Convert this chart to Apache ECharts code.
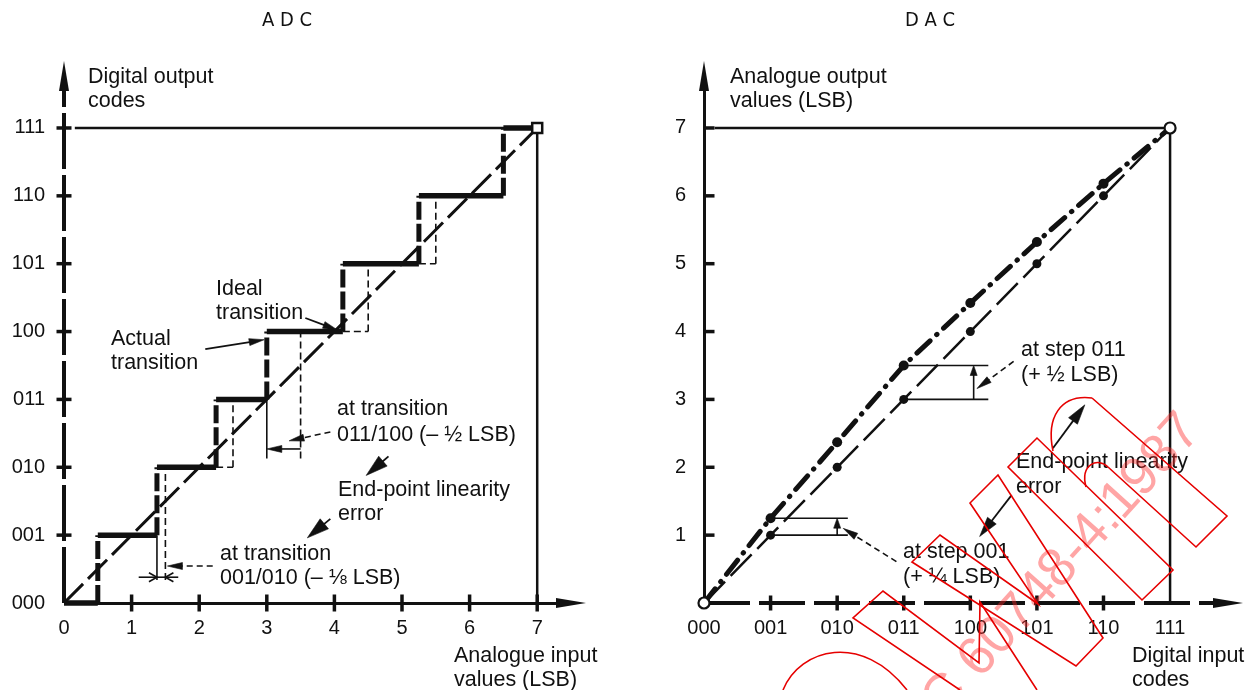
<!DOCTYPE html>
<html>
<head>
<meta charset="utf-8">
<script src="https://cdn.jsdelivr.net/npm/echarts@6/dist/echarts.min.js"></script>
<style>
  html, body { margin: 0; padding: 0; background: #fff; }
  #chart { width: 1248px; height: 690px; }
</style>
</head>
<body>
<div id="chart"></div>
<script>
// ---------- data ----------
const codeLabels = ['000', '001', '010', '011', '100', '101', '110', '111'];
const lsbLabels = ['0', '1', '2', '3', '4', '5', '6', '7'];
const codeSteps = [0, 1, 2, 3, 4, 5, 6, 7];

// ADC: input level (LSB) at which each code 001..111 is reached
const adcIdealTransitions = [0.5, 1.5, 2.5, 3.5, 4.5, 5.5, 6.5];
const adcActualTransitions = [0.5, 1.375, 2.25, 3.0, 4.125, 5.25, 6.5];
// transitions carrying a dimension (index into the arrays above)
const adcMarkedTransitions = [1, 3];

// DAC: analogue output (LSB) for input codes 000..111
const dacIdealOutput = [0, 1, 2, 3, 4, 5, 6, 7];
const dacActualOutput = [0, 1.25, 2.37, 3.5, 4.42, 5.32, 6.18, 7];
// steps carrying a dimension
const dacMarkedSteps = [1, 3];

// ---------- look ----------
const INK = '#111';
const FONT = '"Liberation Sans", Arial, Helvetica, sans-serif';
const TITLE_FONT = '"Liberation Sans Narrow", "DejaVu Sans Condensed", "Liberation Sans", sans-serif';
const ARROW_PATH = 'path://M5,0 L10,30 L0,30 Z';
const TEXT_SIZE = 21.5;
const TICK_SIZE = 20;

const STROKES = {
  tread:  { w: 5.5 },
  riser:  { w: 5, dash: [18, 4] },
  ideal:  { w: 1.6, dash: [7, 4] },
  thin:   { w: 1.6 },
  leader: { w: 1.6, dash: [6, 4] },
  arrow:  { w: 1.8 }
};
const HEADS = {
  filled: { L: 15, W: 7 },
  small:  { L: 10, W: 7 },
  medium: { L: 20, W: 11 },
  big:    { L: 22, W: 13 },
  open:   { L: 8, W: 9, open: true }
};

function arrowHead(from, tip, spec) {
  const dx = tip[0] - from[0], dy = tip[1] - from[1];
  const len = Math.hypot(dx, dy) || 1;
  const ux = dx / len, uy = dy / len, nx = -uy, ny = ux;
  const bx = tip[0] - ux * spec.L, by = tip[1] - uy * spec.L;
  const p1 = [bx + nx * spec.W / 2, by + ny * spec.W / 2];
  const p2 = [bx - nx * spec.W / 2, by - ny * spec.W / 2];
  if (spec.open) {
    return { type: 'polyline', shape: { points: [p1, tip, p2] }, style: { stroke: INK, fill: null, lineWidth: 1.6 } };
  }
  return { type: 'polygon', shape: { points: [tip, p1, p2] }, style: { fill: INK, stroke: INK, lineWidth: 0.6 } };
}

// custom series drawing straight segments (with optional arrow heads) in data space
function segmentSeries(gridIndex, segs) {
  return {
    type: 'custom',
    xAxisIndex: gridIndex,
    yAxisIndex: gridIndex,
    silent: true,
    clip: false,
    z: 3,
    data: segs.map(s => [s.a[0], s.a[1], s.b[0], s.b[1]]),
    encode: { x: [0, 2], y: [1, 3] },
    renderItem: function (params, api) {
      const s = segs[params.dataIndex];
      const p1 = api.coord([api.value(0), api.value(1)]);
      const p2 = api.coord([api.value(2), api.value(3)]);
      const st = STROKES[s.kind];
      const children = [];
      let end = p2;
      if (s.head && !HEADS[s.head].open) {
        const dx = p2[0] - p1[0], dy = p2[1] - p1[1];
        const len = Math.hypot(dx, dy) || 1;
        const back = Math.min(HEADS[s.head].L - 2, len);
        end = [p2[0] - dx / len * back, p2[1] - dy / len * back];
      }
      children.push({
        type: 'line',
        shape: { x1: p1[0], y1: p1[1], x2: end[0], y2: end[1] },
        style: { stroke: INK, lineWidth: st.w, lineDash: st.dash || null, lineCap: 'butt' }
      });
      if (s.head) children.push(arrowHead(p1, p2, HEADS[s.head]));
      return { type: 'group', children: children };
    }
  };
}

// ---------- ADC drawing ----------
const adcSegs = [];
codeSteps.forEach(k => {
  const x0 = k === 0 ? 0 : adcActualTransitions[k - 1];
  const x1 = k === codeSteps.length - 1 ? 7 : adcActualTransitions[k];
  adcSegs.push({ a: [x0, k], b: [x1, k], kind: 'tread' });
});
adcActualTransitions.forEach((t, i) => {
  adcSegs.push({ a: [t, i], b: [t, i + 1], kind: 'riser' });
});
// dimension heights (LSB) for the marked transitions
const adcDimLevel = { 1: 0.38, 3: 2.27 };
const adcDimFoot = { 1: 0.34, 3: 2.13 };
adcIdealTransitions.forEach((ti, i) => {
  const ta = adcActualTransitions[i];
  if (ti <= ta) return;
  const marked = adcMarkedTransitions.indexOf(i) >= 0;
  adcSegs.push({ a: [ti, marked ? adcDimFoot[i] : i], b: [ti, i + 1], kind: 'ideal' });
  if (!marked) {
    adcSegs.push({ a: [ta, i], b: [ti, i], kind: 'ideal' });
  } else {
    adcSegs.push({ a: [ta, adcDimFoot[i]], b: [ta, i], kind: 'thin' });
  }
});
// 001/010 dimension: arrows pointing inwards from outside
(function () {
  const i = 1, y = adcDimLevel[i];
  const ta = adcActualTransitions[i], ti = adcIdealTransitions[i];
  adcSegs.push({ a: [ta - 0.27, y], b: [ta, y], kind: 'thin', head: 'open' });
  adcSegs.push({ a: [ti + 0.19, y], b: [ti, y], kind: 'thin', head: 'open' });
  adcSegs.push({ a: [ta, y], b: [ti, y], kind: 'thin' });
  adcSegs.push({ a: [2.2, 0.545], b: [ti + 0.03, 0.545], kind: 'leader', head: 'filled' });
})();
// 011/100 dimension
(function () {
  const i = 3, y = adcDimLevel[i];
  const ta = adcActualTransitions[i], ti = adcIdealTransitions[i];
  adcSegs.push({ a: [ti, y], b: [ta, y], kind: 'thin', head: 'filled' });
  adcSegs.push({ a: [3.94, 2.52], b: [3.33, 2.39], kind: 'leader', head: 'filled' });
})();
// callout arrows
adcSegs.push({ a: [3.57, 4.2], b: [4.05, 4.02], kind: 'arrow', head: 'filled' });
adcSegs.push({ a: [2.09, 3.74], b: [2.96, 3.88], kind: 'arrow', head: 'filled' });
adcSegs.push({ a: [4.8, 2.16], b: [4.47, 1.88], kind: 'arrow', head: 'big' });
adcSegs.push({ a: [3.94, 1.24], b: [3.6, 0.96], kind: 'arrow', head: 'big' });

// ---------- DAC drawing ----------
const dacSegs = [];
const dacDim = { 1: { right: 2.16, arrowX: 2.0 }, 3: { right: 4.27, arrowX: 4.05 } };
dacMarkedSteps.forEach(i => {
  const yI = dacIdealOutput[i], yA = dacActualOutput[i], d = dacDim[i];
  dacSegs.push({ a: [i, yI], b: [d.right, yI], kind: 'thin' });
  dacSegs.push({ a: [i + 0.05, yA], b: [d.right, yA], kind: 'thin' });
  dacSegs.push({ a: [d.arrowX, yI], b: [d.arrowX, yA], kind: 'thin', head: 'small' });
});
dacSegs.push({ a: [2.89, 0.61], b: [2.09, 1.1], kind: 'leader', head: 'filled' });
dacSegs.push({ a: [4.65, 3.56], b: [4.1, 3.16], kind: 'leader', head: 'filled' });
dacSegs.push({ a: [5.24, 2.28], b: [5.72, 2.92], kind: 'arrow', head: 'medium' });
dacSegs.push({ a: [4.62, 1.59], b: [4.14, 0.98], kind: 'arrow', head: 'medium' });

// ---------- axes ----------
function tickLabels(values, labels, margin) {
  return {
    customValues: values,
    formatter: v => labels[Math.round(v)] || '',
    color: INK, fontFamily: FONT, fontSize: TICK_SIZE, margin: margin
  };
}
function axisLine(width, dash) {
  return {
    show: true, onZero: false,
    symbol: ['none', ARROW_PATH], symbolSize: [11, 30],
    lineStyle: { color: INK, width: width, type: dash || 'solid', cap: 'butt' }
  };
}
function valueAxis(gridIndex, max, line, labels) {
  return {
    type: 'value', gridIndex: gridIndex, min: 0, max: max,
    splitLine: { show: false },
    axisTick: { show: false },
    axisLine: line,
    axisLabel: labels
  };
}

const xAxes = [
  valueAxis(0, 7.5, axisLine(3), tickLabels(codeSteps, lsbLabels, 15)),
  valueAxis(1, 7.87, axisLine(4, [46, 9]), tickLabels(codeSteps, codeLabels, 15))
];
const yAxes = [
  valueAxis(0, 7.766, axisLine(4, [56, 6]), tickLabels(codeSteps, codeLabels, 19)),
  valueAxis(1, 7.766, axisLine(3), tickLabels(codeSteps.slice(1), lsbLabels, 18))
];

// crossing tick marks
function tickSeries(gridIndex, points, size, offset) {
  return {
    type: 'scatter', xAxisIndex: gridIndex, yAxisIndex: gridIndex, silent: true, clip: false, z: 4,
    symbol: 'rect', symbolSize: size, symbolOffset: offset || [0, 0],
    itemStyle: { color: INK, opacity: 1 }, data: points
  };
}

const frame = [[0.16, 7], [7, 7], [7, 0]];

const series = [
  // ADC
  { type: 'line', xAxisIndex: 0, yAxisIndex: 0, data: frame, symbol: 'none', silent: true, z: 2,
    lineStyle: { color: INK, width: 2.5 } },
  { type: 'line', xAxisIndex: 0, yAxisIndex: 0, data: [[0, 0], [7, 7]], symbol: 'none', silent: true, z: 2,
    lineStyle: { color: INK, width: 3, type: [27, 7] } },
  segmentSeries(0, adcSegs),
  tickSeries(0, codeSteps.slice(1).map(v => [0, v]), [15, 3.5]),
  tickSeries(0, codeSteps.slice(1).map(v => [v, 0]), [3.5, 17]),
  { type: 'scatter', xAxisIndex: 0, yAxisIndex: 0, data: [[7, 7]], symbol: 'rect', symbolSize: 10, z: 6, silent: true,
    itemStyle: { color: '#fff', borderColor: INK, borderWidth: 2.5, opacity: 1 } },

  // DAC
  { type: 'line', xAxisIndex: 1, yAxisIndex: 1, data: frame, symbol: 'none', silent: true, z: 2,
    lineStyle: { color: INK, width: 2.5 } },
  { type: 'line', xAxisIndex: 1, yAxisIndex: 1, silent: true, z: 3,
    data: codeSteps.map(i => [i, dacIdealOutput[i]]),
    symbol: 'circle', symbolSize: 9, itemStyle: { color: INK, opacity: 1 },
    lineStyle: { color: INK, width: 2.5, type: [30, 8] } },
  { type: 'line', xAxisIndex: 1, yAxisIndex: 1, silent: true, z: 3,
    data: codeSteps.map(i => [i, dacActualOutput[i]]),
    symbol: 'circle', symbolSize: 10, itemStyle: { color: INK, opacity: 1 },
    lineStyle: { color: INK, width: 5, type: [18, 9, 0.5, 9], cap: 'round' } },
  segmentSeries(1, dacSegs),
  tickSeries(1, codeSteps.slice(1, 7).map(v => [v, 0]), [3.5, 15]),
  tickSeries(1, codeSteps.slice(1).map(v => [0, v]), [11, 3.5], [5, 0]),
  { type: 'scatter', xAxisIndex: 1, yAxisIndex: 1, silent: true, z: 6,
    data: [[0, dacIdealOutput[0]], [7, dacIdealOutput[7]]],
    symbol: 'circle', symbolSize: 11, itemStyle: { color: '#fff', borderColor: INK, borderWidth: 2.2, opacity: 1 } }
];

// ---------- text & stamp ----------
function label(text, x, y, extra) {
  return {
    type: 'text', x: x, y: y, silent: true, z: 20,
    style: Object.assign({ text: text, fill: INK, font: TEXT_SIZE + 'px ' + FONT, align: 'left', verticalAlign: 'middle' }, extra || {})
  };
}
const texts = [
  label('A D C', 287, 21, { align: 'center', font: '20px ' + TITLE_FONT }),
  label('D A C', 930, 21, { align: 'center', font: '20px ' + TITLE_FONT }),
  label('Digital output', 88, 77), label('codes', 88, 101),
  label('Ideal', 216, 289), label('transition', 216, 313),
  label('Actual', 111, 339), label('transition', 111, 363),
  label('at transition', 337, 409), label('011/100 (\u2013 \u00bd LSB)', 337, 435),
  label('End-point linearity', 338, 490), label('error', 338, 514),
  label('at transition', 220, 554), label('001/010 (\u2013 \u215b LSB)', 220, 578),
  label('Analogue input', 454, 656), label('values (LSB)', 454, 680),
  label('Analogue output', 730, 77), label('values (LSB)', 730, 101),
  label('at step 011', 1021, 350), label('(+ \u00bd LSB)', 1021, 375),
  label('End-point linearity', 1016, 462), label('error', 1016, 487),
  label('at step 001', 903, 552), label('(+ \u00bc LSB)', 903, 577),
  label('Digital input', 1132, 656), label('codes', 1132, 680)
];

const RED = '#e60000';
const stampStyle = { stroke: RED, fill: null, lineWidth: 1.6 };
const stamp = [
  { type: 'text', x: 1045, y: 585, rotation: 48 * Math.PI / 180, silent: true, z: 30,
    style: { text: 'IEC 60748-4:1987', fill: 'rgba(255,40,40,0.42)', font: '54px ' + FONT, align: 'center', verticalAlign: 'middle' } },
  { type: 'polygon', silent: true, z: 31, shape: { points: [[1008, 467], [1037, 438], [1173, 570], [1142, 600]] }, style: stampStyle },
  { type: 'polygon', silent: true, z: 31, shape: { points: [[912, 562], [940, 535], [1038, 604], [970, 503], [998, 475], [1103, 638], [1076, 666]] }, style: stampStyle },
  { type: 'polyline', silent: true, z: 31, shape: { points: [[960, 690], [853, 618], [883, 591], [979, 663], [980, 602], [1037, 690]] }, style: stampStyle },
  { type: 'bezierCurve', silent: true, z: 31, shape: { x1: 1053, y1: 451, cpx1: 1046, cpy1: 418, cpx2: 1060, cpy2: 394, x2: 1092, y2: 398 }, style: stampStyle },
  { type: 'polyline', silent: true, z: 31, shape: { points: [[1092, 398], [1227, 516], [1196, 547], [1108, 467]] }, style: stampStyle },
  { type: 'bezierCurve', silent: true, z: 31, shape: { x1: 1108, y1: 467, cpx1: 1098, cpy1: 457, cpx2: 1080, cpy2: 464, x2: 1086, y2: 487 }, style: stampStyle },
  { type: 'bezierCurve', silent: true, z: 31, shape: { x1: 783, y1: 690, cpx1: 800, cpy1: 648, cpx2: 862, cpy2: 632, x2: 907, y2: 690 }, style: stampStyle }
];

const chart = echarts.init(document.getElementById('chart'), null, { renderer: 'canvas' });
chart.setOption({
  animation: false,
  backgroundColor: '#fff',
  grid: [
    { left: 64, top: 76, width: 507, height: 527, containLabel: false, outerBoundsMode: 'none' },
    { left: 704, top: 76, width: 524, height: 527, containLabel: false, outerBoundsMode: 'none' }
  ],
  xAxis: xAxes,
  yAxis: yAxes,
  series: series,
  graphic: { elements: texts.concat(stamp) }
});
</script>
</body>
</html>
